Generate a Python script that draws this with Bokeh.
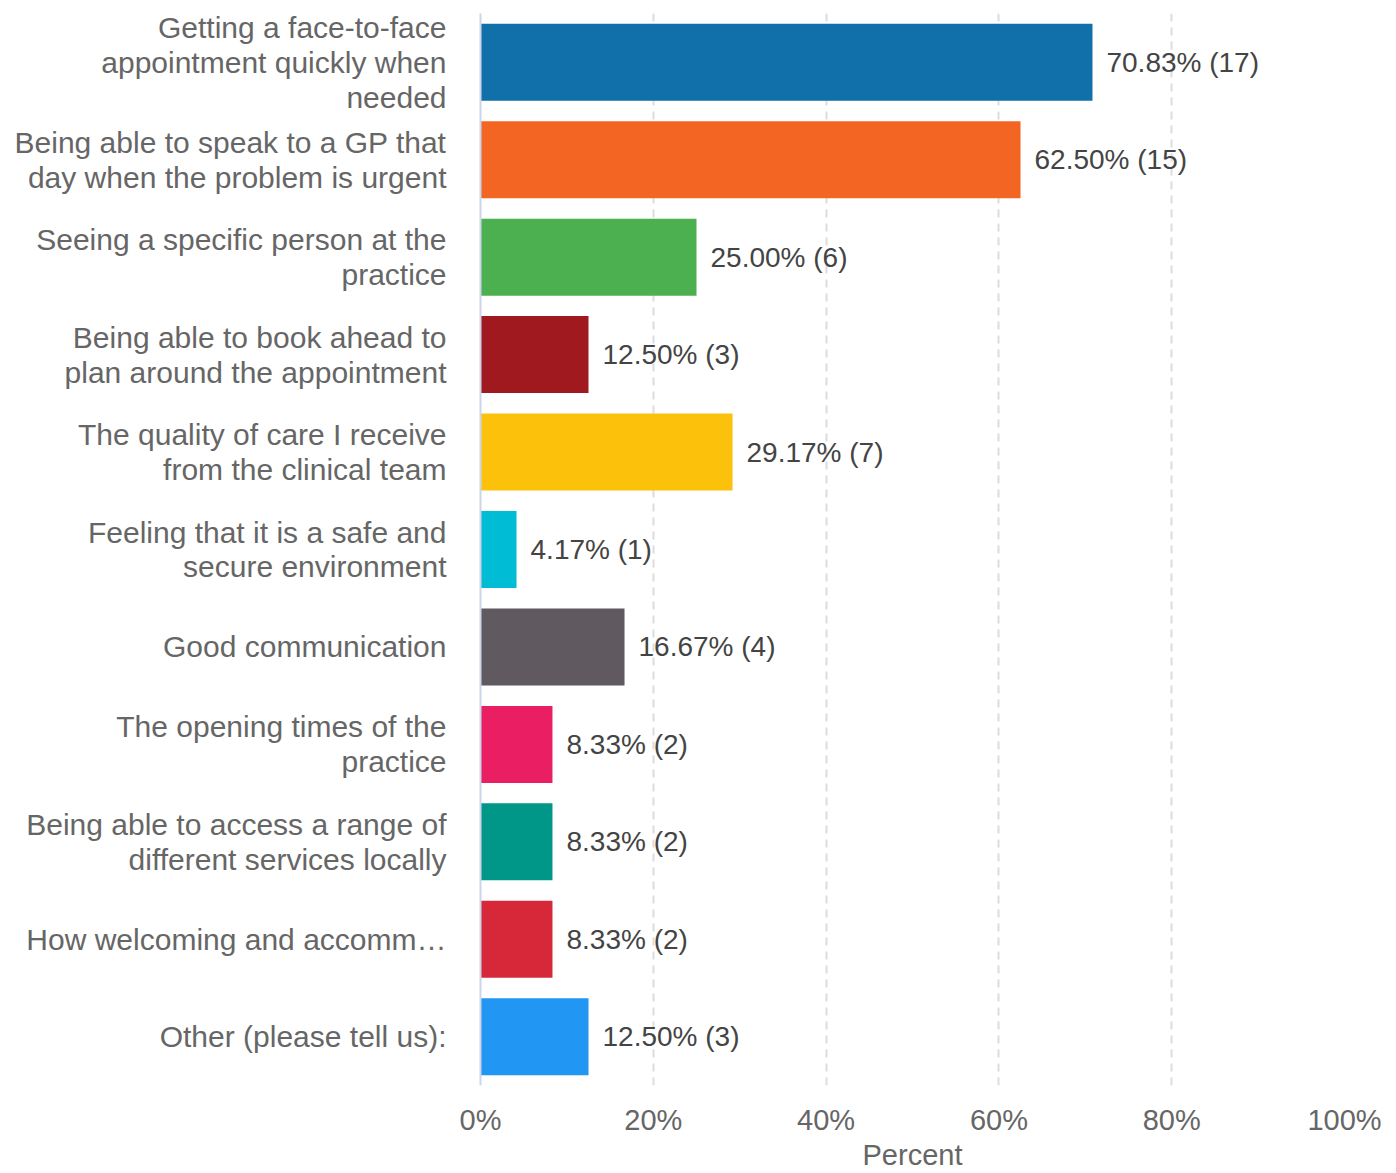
from bokeh.plotting import figure
from bokeh.models import ColumnDataSource, FactorRange, Range1d, FixedTicker, CustomJSTickFormatter
from bokeh.embed import file_html
from bokeh.resources import INLINE
from bokeh.core.properties import value

categories = [
    "Getting a face-to-face\nappointment quickly when\nneeded",
    "Being able to speak to a GP that\nday when the problem is urgent",
    "Seeing a specific person at the\npractice",
    "Being able to book ahead to\nplan around the appointment",
    "The quality of care I receive\nfrom the clinical team",
    "Feeling that it is a safe and\nsecure environment",
    "Good communication",
    "The opening times of the\npractice",
    "Being able to access a range of\ndifferent services locally",
    "How welcoming and accomm\u2026",
    "Other (please tell us):",
]
percents = [70.83, 62.50, 25.00, 12.50, 29.17, 4.17, 16.67, 8.33, 8.33, 8.33, 12.50]
counts = [17, 15, 6, 3, 7, 1, 4, 2, 2, 2, 3]
colors = ["#1170aa", "#f26522", "#4caf50", "#a0191e", "#fcc10b", "#00bcd4",
          "#605a60", "#e91e63", "#009688", "#d62839", "#2196f3"]
x_ticks = [0, 20, 40, 60, 80, 100]

labels = [f"{p:.2f}% ({c})" for p, c in zip(percents, counts)]
src = ColumnDataSource(dict(cat=categories, pct=percents, lab=labels, col=colors))

FONT = "Liberation Sans"

p = figure(
    width=1396, height=1173,
    y_range=FactorRange(*categories[::-1], range_padding=0, factor_padding=0),
    x_range=Range1d(0, 100),
    output_backend="svg", toolbar_location=None,
    min_border_left=480, min_border_right=52, min_border_top=13, min_border_bottom=87,
)
p.outline_line_color = None
p.background_fill_color = "white"
p.border_fill_color = "white"

p.hbar(y="cat", right="pct", left=0, height=0.79, fill_color="col", line_color=None, source=src)
p.text(x="pct", y="cat", text="lab", source=src, x_offset=14,
       text_baseline="middle", text_align="left",
       text_font=value(FONT), text_font_size="28px", text_color="#444444")

# grid
p.ygrid.grid_line_color = None
p.xgrid.ticker = FixedTicker(ticks=[20, 40, 60, 80, 100])
p.xgrid.grid_line_color = "#dcdcdc"
p.xgrid.grid_line_dash = "8 6"
p.xgrid.grid_line_width = 2

# x axis
p.xaxis.ticker = FixedTicker(ticks=x_ticks)
p.xaxis.formatter = CustomJSTickFormatter(code="return tick + '%';")
p.xaxis.axis_line_color = None
p.xaxis.major_tick_line_color = None
p.xaxis.minor_tick_line_color = None
p.xaxis.major_tick_out = 0
p.xaxis.major_tick_in = 0
p.xaxis.minor_tick_out = 0
p.xaxis.major_label_standoff = 18
p.xaxis.major_label_text_font = FONT
p.xaxis.major_label_text_font_size = "29px"
p.xaxis.major_label_text_color = "#666666"
p.xaxis.axis_label = "Percent"
p.xaxis.axis_label_text_font = FONT
p.xaxis.axis_label_text_font_size = "29px"
p.xaxis.axis_label_text_font_style = "normal"
p.xaxis.axis_label_text_color = "#666666"
p.xaxis.axis_label_standoff = 0

# y axis
p.yaxis.axis_line_color = "#ccd6eb"
p.yaxis.axis_line_width = 2
p.yaxis.major_tick_line_color = None
p.yaxis.minor_tick_line_color = None
p.yaxis.major_tick_out = 0
p.yaxis.major_tick_in = 0
p.yaxis.minor_tick_out = 0
p.yaxis.major_label_standoff = 34
p.yaxis.major_label_text_font = FONT
p.yaxis.major_label_text_font_size = "30px"
p.yaxis.major_label_text_color = "#666666"
p.yaxis.major_label_text_line_height = 1.06
p.yaxis.major_label_text_align = "right"

open("out.html", "w").write(file_html(p, INLINE))
